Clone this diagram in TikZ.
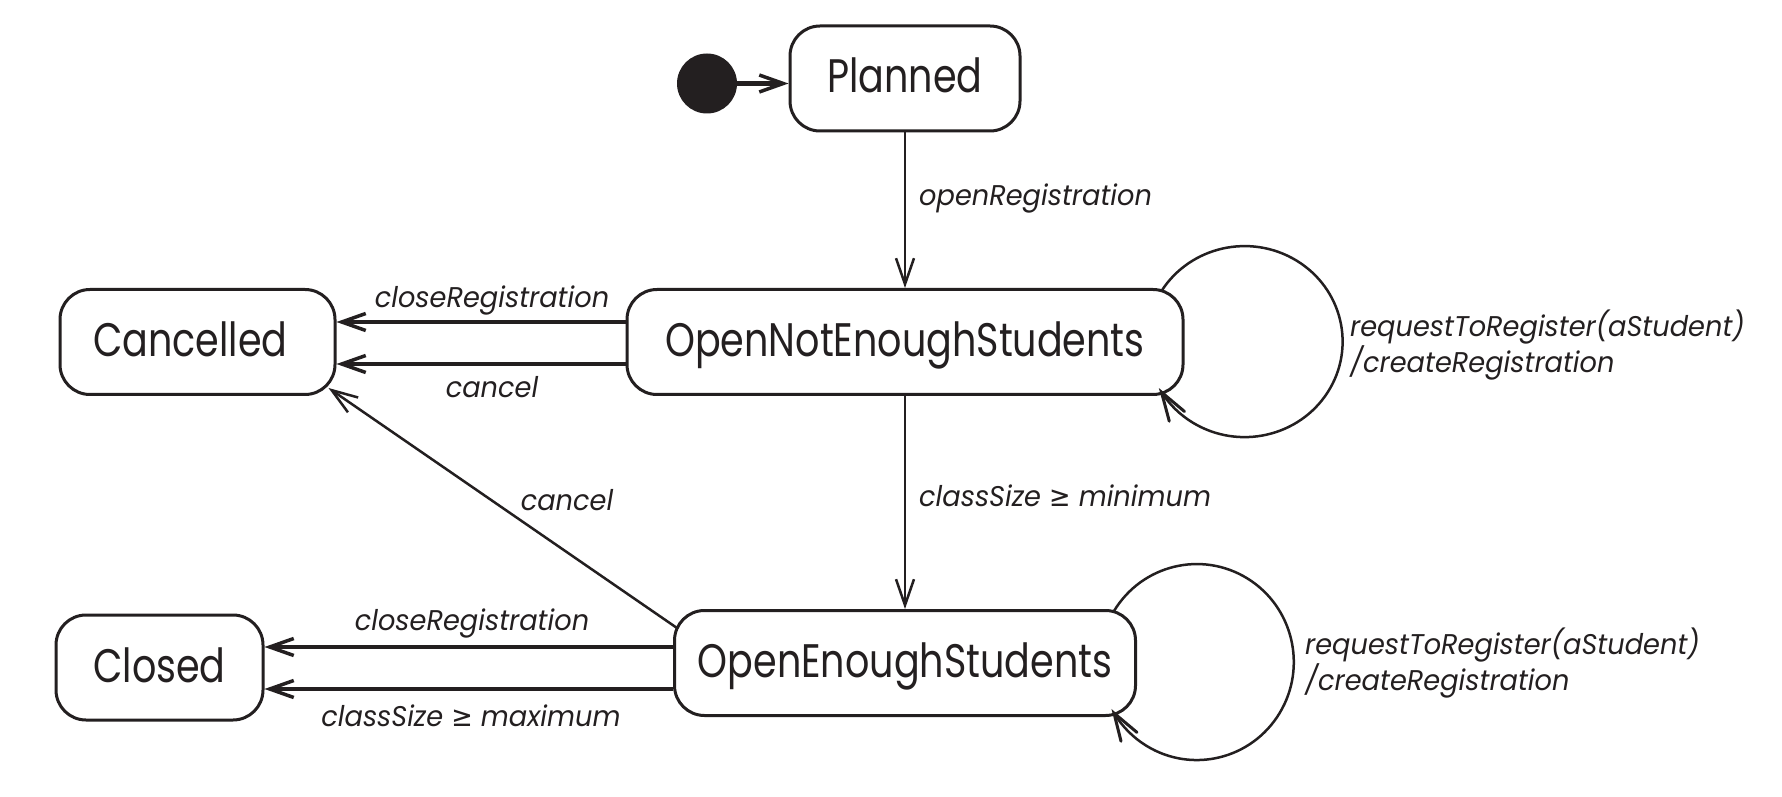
\documentclass[tikz,border=0pt]{standalone}
\usepackage{fontspec}
\setmainfont{Poppins}[FakeStretch=0.81]
\newfontfamily\lblfont{Poppins}[FakeStretch=0.955]
\newfontfamily\symfont{DejaVu Sans}[FakeStretch=0.9]
\usetikzlibrary{arrows.meta,calc}
\definecolor{ink}{RGB}{35,31,32}
\begin{document}
\begin{tikzpicture}[x=1pt,y=1pt,
  state/.style={draw=ink, line width=3pt, rounded corners=30pt, minimum height=105pt,
    inner sep=0pt, text height=35pt, text depth=6pt, font=\fontsize{47}{50}\selectfont, text=ink},
  lbl/.style={font=\lblfont\fontsize{28.5}{36}\selectfont\itshape, text=ink, inner sep=0pt},
  trans/.style={draw=ink, line width=2.5pt, -{Straight Barb[length=26pt,width=18pt,line width=2.5pt]}},
  transthick/.style={draw=ink, line width=4.5pt, -{Straight Barb[length=24pt,width=17pt,line width=3.5pt]}},
  loopline/.style={draw=ink, line width=2.5pt},
  looptip/.style={draw=ink, line width=3pt, line cap=round, line join=miter},
]
\useasboundingbox (0,0) rectangle (1782,796);
\fill[white] (0,0) rectangle (1782,796);

% states
\node[circle, fill=ink, minimum size=60pt, inner sep=0pt] (init) at (707,712.5) {};
\node[state, minimum width=230pt] (planned) at (905,717.5) {Planned};
\node[state, minimum width=556pt] (ones) at (905,454) {OpenNotEnoughStudents};
\node[state, minimum width=275pt] (cancelled) at (197.5,454) {Cancelled\kern14pt};
\node[state, minimum width=461pt] (oes) at (905,133) {OpenEnoughStudents};
\node[state, minimum width=207pt] (closed) at (159.5,128.5) {Closed};

% transitions
\draw[transthick] (init) -- (init -| planned.west);
\draw[trans] (planned) -- (ones);
\draw[trans] (ones) -- (oes);
\draw[transthick] ([yshift=20pt]ones.west) -- ([yshift=20pt]cancelled.east);
\draw[transthick] ([yshift=-22pt]ones.west) -- ([yshift=-22pt]cancelled.east);
\draw[transthick] ([yshift=16pt]oes.west) -- ([yshift=20.5pt]closed.east);
\draw[transthick] ([yshift=-26pt]oes.west) -- ([yshift=-21.5pt]closed.east);
\draw[trans] ([shift={(4pt,-19pt)}]oes.north west) -- ([shift={(-8pt,8pt)}]cancelled.south east);

% self loops
\draw[loopline] ([shift={(-23pt,-3pt)}]ones.north east)
  arc[start angle=148, end angle=-148, x radius=98, y radius=95.5] coordinate (l1e);
\draw[looptip] ([shift={(-75:30pt)}]l1e) -- (l1e) -- ([shift={(-40:30pt)}]l1e);
\draw[loopline] ([shift={(-23pt,-2pt)}]oes.north east)
  arc[start angle=148.6, end angle=-148.6, x radius=97, y radius=98] coordinate (l2e);
\draw[looptip] ([shift={(-76:29pt)}]l2e) -- (l2e) -- ([shift={(-40:30pt)}]l2e);

% labels
\node[lbl, anchor=base west] (l1) at (919,590) {openRegistration};
\node[lbl, anchor=base] (l2) at (492,488) {closeRegistration};
\node[lbl, anchor=base] (l3) at (492,398) {cancel};
\node[lbl, anchor=base west] (l4) at (919,290) {classSize {\symfont ≥} minimum};
\node[lbl, anchor=base] (l5) at (567,286) {cancel};
\node[lbl, anchor=base] (l6) at (472,166) {closeRegistration};
\node[lbl, anchor=base] (l7) at (471,70) {classSize {\symfont ≥} maximum};
\node[lbl, anchor=base west] (l8a) at (1350,459) {requestToRegister(aStudent)};
\node[lbl, anchor=base west] (l8b) at (1350,423) {/createRegistration};
\node[lbl, anchor=base west] (l9a) at (1305,142) {requestToRegister(aStudent)};
\node[lbl, anchor=base west] (l9b) at (1305,106) {/createRegistration};
\end{tikzpicture}
\end{document}
